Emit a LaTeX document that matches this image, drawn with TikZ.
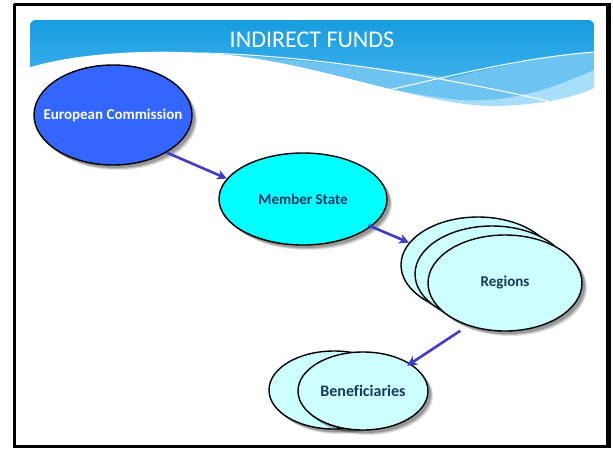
\documentclass[tikz,border=0pt]{standalone}
\usepackage{fontspec}
\setmainfont{Carlito}
\usetikzlibrary{shapes.geometric,shadows,arrows.meta}
\definecolor{ecblue}{RGB}{51,102,255}
\definecolor{mscyan}{RGB}{0,255,255}
\definecolor{lightcyan}{RGB}{204,255,255}
\definecolor{navytext}{RGB}{23,55,94}
\definecolor{arrowblue}{RGB}{62,62,204}
\definecolor{bannertop}{RGB}{10,149,221}
\definecolor{bannerbot}{RGB}{60,176,234}
\definecolor{bandmid}{RGB}{110,196,240}
\definecolor{bandlight}{RGB}{168,222,248}
\tikzset{
  bubble/.style={ellipse, draw=black, line width=1.4pt, inner xsep=-40pt, inner ysep=0pt,
    font=\bfseries\fontsize{15}{18}\selectfont, text=navytext,
    drop shadow={shadow xshift=5pt, shadow yshift=-5pt, fill=black, opacity=0.12},
    drop shadow={shadow xshift=4pt, shadow yshift=-4pt, fill=black, opacity=0.15},
    drop shadow={shadow xshift=3pt, shadow yshift=-3pt, fill=black, opacity=0.2}},
  flow/.style={draw=arrowblue, line width=2.6pt, -{Stealth[length=10pt,width=10pt]}},
  wline/.style={draw=white, line width=1pt}
}
\begin{document}
\begin{tikzpicture}[x=1pt,y=-1pt]
\useasboundingbox (0,0) rectangle (613,448);
\fill[white] (0,0) rectangle (613,448);
% banner
\begin{scope}
\clip[rounded corners=6pt] (30,20) -- (594,20) -- (594,120) -- (30,120) -- cycle;
\clip (30,0) -- (30,67) .. controls (80,52) and (160,48) .. (230,55)
   .. controls (330,66) and (430,108) .. (500,106)
   .. controls (550,104) and (580,95) .. (594,88) -- (594,0) -- cycle;
\fill[bandlight] (20,10) rectangle (600,120);
\fill[bandmid] (30,0) -- (30,67) .. controls (80,52) and (160,48) .. (230,55)
   .. controls (300,64) and (380,92) .. (460,100)
   .. controls (520,104) and (570,80) .. (594,70) -- (594,0) -- cycle;
\shade[top color=bannertop, bottom color=bannerbot] (30,0) -- (30,67)
   .. controls (90,50) and (170,48) .. (250,56)
   .. controls (330,63) and (400,70) .. (450,78)
   .. controls (500,66) and (550,55) .. (594,52) -- (594,0) -- cycle;
\draw[wline] (200,53) .. controls (300,55) and (420,72) .. (548,101);
\draw[wline] (380,92) .. controls (450,76) and (520,58) .. (594,52);
\end{scope}
\node[text=white, font=\fontsize{24}{28}\selectfont] (title) at (312,40) {INDIRECT FUNDS};
% frame
\draw[black, line width=3pt] (14,4) -- (608,4);
\draw[black, line width=3pt] (14,4) -- (14,446) -- (608,446);
\draw[black, line width=5pt] (608.5,2.5) -- (608.5,447.5);
% nodes
\node[bubble, fill=ecblue, text=white, minimum width=158pt, minimum height=100pt] (ec) at (113,115) {European Commission};
\node[bubble, fill=mscyan, minimum width=168pt, minimum height=92pt] (ms) at (303,199) {Member State};
\node[bubble, fill=lightcyan, minimum width=154pt, minimum height=96pt] (rb) at (478,265) {};
\node[bubble, fill=lightcyan, minimum width=154pt, minimum height=96pt] (rm) at (492,274) {};
\node[bubble, fill=lightcyan, minimum width=154pt, minimum height=96pt] (rf) at (505,283) {Regions};
\node[bubble, fill=lightcyan, minimum width=130pt, minimum height=78pt] (bb) at (334,390) {};
\node[bubble, fill=lightcyan, minimum width=130pt, minimum height=78pt, font=\bfseries\fontsize{16}{19}\selectfont] (bf) at (363,391) {Benef\kern0pt iciaries};
% connectors
\draw[flow] (ec.-35) -- (ms.165);
\draw[flow, shorten <=-3pt] (ms.-22) -- (rb.162);
\draw[flow, shorten <=9pt, shorten >=-4pt] (rf.229) -- (bf.30);
\end{tikzpicture}
\end{document}
